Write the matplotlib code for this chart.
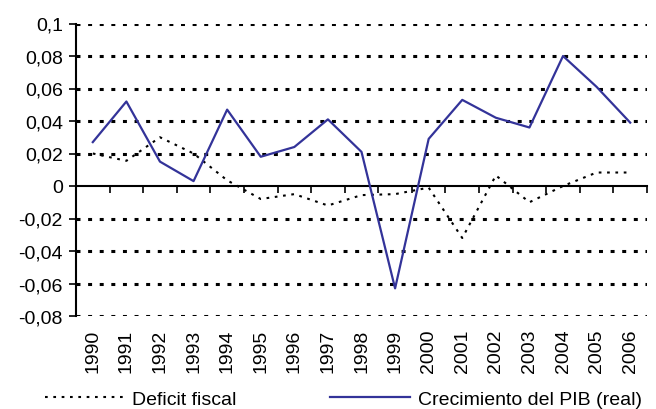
import matplotlib
matplotlib.use("Agg")
import matplotlib.pyplot as plt
import numpy as np

plt.rcParams["font.family"] = ["Liberation Sans", "DejaVu Sans"]

years = [str(y) for y in range(1990, 2007)]
deficit = [0.020, 0.0155, 0.030, 0.020, 0.0035, -0.008, -0.005, -0.012, -0.0056,
           -0.005, -0.001, -0.032, 0.0065, -0.010, 0.000, 0.0083, 0.0083]
growth = [0.027, 0.052, 0.015, 0.003, 0.047, 0.018, 0.024, 0.041, 0.021,
          -0.063, 0.029, 0.053, 0.042, 0.036, 0.080, 0.061, 0.039]
y_ticks = [-0.08, -0.06, -0.04, -0.02, 0, 0.02, 0.04, 0.06, 0.08, 0.1]
y_labels = ["-0,08", "-0,06", "-0,04", "-0,02", "0", "0,02", "0,04", "0,06", "0,08", "0,1"]

ymin, ymax = -0.08, 0.1

fig = plt.figure(figsize=(6.56, 4.10), dpi=100)
ax = fig.add_axes([76 / 656, 1 - 317 / 410, (647 - 76) / 656, (317 - 24.5) / 410])

x = np.arange(len(years))

# dotted grid lines (skip the zero line, which is the category axis)
for yv in y_ticks:
    if yv != 0:
        ax.axhline(yv, color="black", lw=2.2, linestyle=(0, (1.3, 2.5)), zorder=1)

line_def, = ax.plot(x, deficit, color="black", lw=1.5, linestyle=(0, (1.3, 2.7)),
                    zorder=3, label="Deficit fiscal")
line_gdp, = ax.plot(x, growth, color="#333399", lw=1.6, zorder=4,
                    label="Crecimiento del PIB (real)")

ax.set_xlim(-0.5, len(years) - 0.5)
ax.set_ylim(ymin, ymax)
ax.set_yticks(y_ticks)
ax.set_yticklabels(y_labels)
ax.tick_params(axis="y", length=5, width=1.2, pad=4.5, labelsize=14)
ax.set_xticks(x)
ax.set_xticklabels(years, rotation=90)
ax.tick_params(axis="x", length=0, pad=9, labelsize=14)

for s in ["top", "right", "bottom"]:
    ax.spines[s].set_visible(False)
ax.spines["left"].set_linewidth(1.5)

# category axis crossing at zero, ticks between categories
zero_pos = (0 - ymin) / (ymax - ymin)
sec = ax.secondary_xaxis(zero_pos)
sec.set_xticks(np.arange(len(years) + 1) - 0.5)
sec.set_xticklabels([])
sec.tick_params(length=5, width=1.2, direction="out")
sec.spines["bottom"].set_linewidth(1.5)

leg_kw = dict(loc="center left", frameon=False, fontsize=14, handlelength=4.1,
              handletextpad=0.4, borderpad=0, borderaxespad=0)
fig.legend(handles=[line_def], bbox_to_anchor=(45 / 656, 1 - 400 / 410), **leg_kw)
fig.legend(handles=[line_gdp], bbox_to_anchor=(330 / 656, 1 - 400 / 410), **leg_kw)

fig.savefig("out.png", dpi=100)
